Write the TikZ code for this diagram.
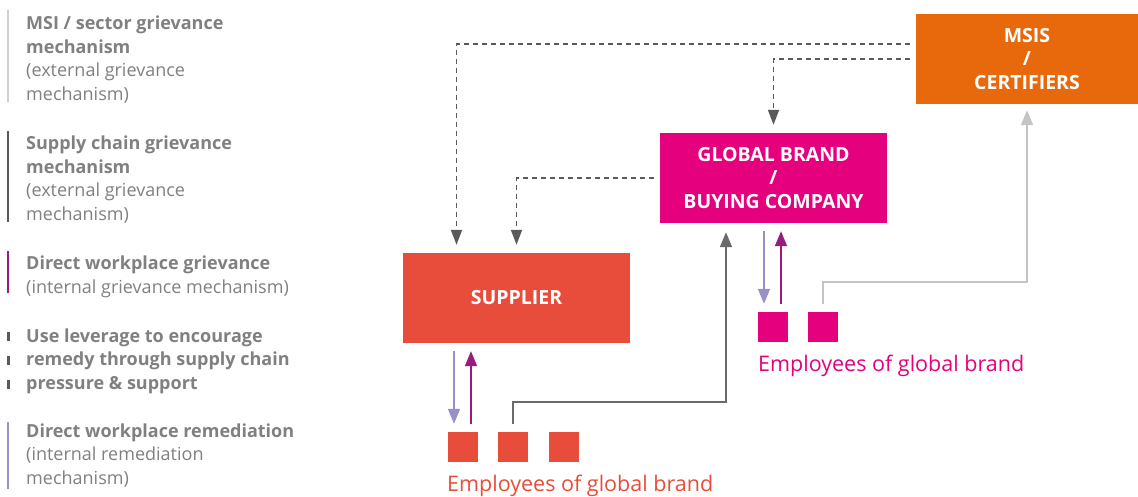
\documentclass[tikz,border=0pt]{standalone}
\usepackage{fontspec}
\setmainfont{Open Sans}
\usetikzlibrary{positioning,arrows.meta,calc}
\definecolor{msiorange}{HTML}{E8690B}
\definecolor{brandpink}{HTML}{E5007D}
\definecolor{suppred}{HTML}{E84C3A}
\definecolor{griefpurple}{HTML}{981B7D}
\definecolor{remlav}{HTML}{9B8FC8}
\definecolor{darkline}{HTML}{5A5A5A}
\definecolor{midline}{HTML}{6A6A6A}
\definecolor{lightline}{HTML}{C4C4C4}
\definecolor{legtext}{HTML}{808080}

\begin{document}
\begin{tikzpicture}[
  x=1pt, y=-1pt,
  box/.style={rectangle, minimum width=227pt, minimum height=90pt, inner sep=0pt, align=center, text=white, font=\bfseries\fontsize{19.5}{23.5}\selectfont},
  worker/.style={rectangle, minimum size=30pt, inner sep=0pt},
  emp/.style={inner sep=0pt, anchor=base west, font=\fontsize{21.5}{24}\selectfont},
  legend/.style={inner sep=0pt, anchor=base west, align=left, text=legtext, font=\fontsize{18}{23.5}\selectfont},
  bar/.style={line width=2.5pt},
  dasharr/.style={-{Triangle[length=15pt,width=11pt]}, line width=1.6pt, draw=darkline, dash pattern=on 5pt off 4pt, shorten <=6pt, shorten >=8pt},
  arr/.style={-{Triangle[length=15pt,width=12pt]}, line width=1.6pt, shorten <=8pt, shorten >=8pt}
]
  \useasboundingbox (0,0) rectangle (1138,496);

  \node[box, fill=msiorange, minimum width=222pt] (msis)   at (1027,59)    {MSIS\\/\\CERTIFIERS};
  \node[box, fill=brandpink]                      (global) at (773.5,178)  {GLOBAL BRAND\\/\\BUYING COMPANY};
  \node[box, fill=suppred]                        (supp)   at (516.5,298)  {SUPPLIER};

  \node[worker, fill=suppred] (se1) at (463,447) {};
  \node[worker, fill=suppred] (se2) at (513,447) {};
  \node[worker, fill=suppred] (se3) at (564,447) {};
  \node[worker, fill=brandpink] (ge1) at (773,327) {};
  \node[worker, fill=brandpink] (ge2) at (823,327) {};

  \node[emp, text=suppred]   (selabel) at (447,491) {Employees of global brand};
  \node[emp, text=brandpink] (gelabel) at (758,371) {Employees of global brand};

  % External grievance (dashed)
  \draw[dasharr] ([yshift=15pt]msis.west) -| ([xshift=-60pt]supp.north);
  \draw[dasharr] (msis.west) -| (global.north);
  \draw[dasharr] (global.west) -| (supp.north);

  % Direct grievance and remediation
  \draw[arr, draw=remlav]      ([xshift=-9pt]se1.north |- supp.south) -- ([xshift=-9pt]se1.north);
  \draw[arr, draw=griefpurple] ([xshift=8pt]se1.north) -- ([xshift=8pt]se1.north |- supp.south);
  \draw[arr, draw=remlav]      ([xshift=-9pt]ge1.north |- global.south) -- ([xshift=-9pt]ge1.north);
  \draw[arr, draw=griefpurple] ([xshift=8pt]ge1.north) -- ([xshift=8pt]ge1.north |- global.south);

  % Escalation
  \coordinate (k1) at (513,402);
  \coordinate (k2) at (823,282);
  \draw[arr, draw=midline, shorten >=9pt]   (se2.north) -- (k1) -| ([xshift=-47.5pt]global.south);
  \draw[arr, draw=lightline, shorten >=6pt] (ge2.north) -- (k2) -| (msis.south);

  % Legend
  \draw[bar, draw=lightline!80]   (8,10) -- (8,102);
  \draw[bar, draw=darkline]       (8,131) -- (8,222);
  \draw[bar, draw=griefpurple]    (8,251) -- (8,293);
  \foreach \y in {336,360,384}
    \draw[bar, line width=3pt, draw=darkline] (8,{\y-4.5}) -- (8,{\y+4.5});
  \draw[bar, draw=remlav]         (8,422) -- (8,489);

  \node[legend] (l1) at (26,100) {\textbf{MSI / sector grievance}\\\textbf{mechanism}\\(external grievance\\mechanism)};
  \node[legend] (l2) at (26,220) {\textbf{Supply chain grievance}\\\textbf{mechanism}\\(external grievance\\mechanism)};
  \node[legend] (l3) at (26,293) {\textbf{Direct workplace grievance}\\(internal grievance mechanism)};
  \node[legend] (l4) at (26,389) {\textbf{Use leverage to encourage}\\\textbf{remedy through supply chain}\\\textbf{pressure \& support}};
  \node[legend] (l5) at (26,484) {\textbf{Direct workplace remediation}\\(internal remediation\\mechanism)};
\end{tikzpicture}
\end{document}
